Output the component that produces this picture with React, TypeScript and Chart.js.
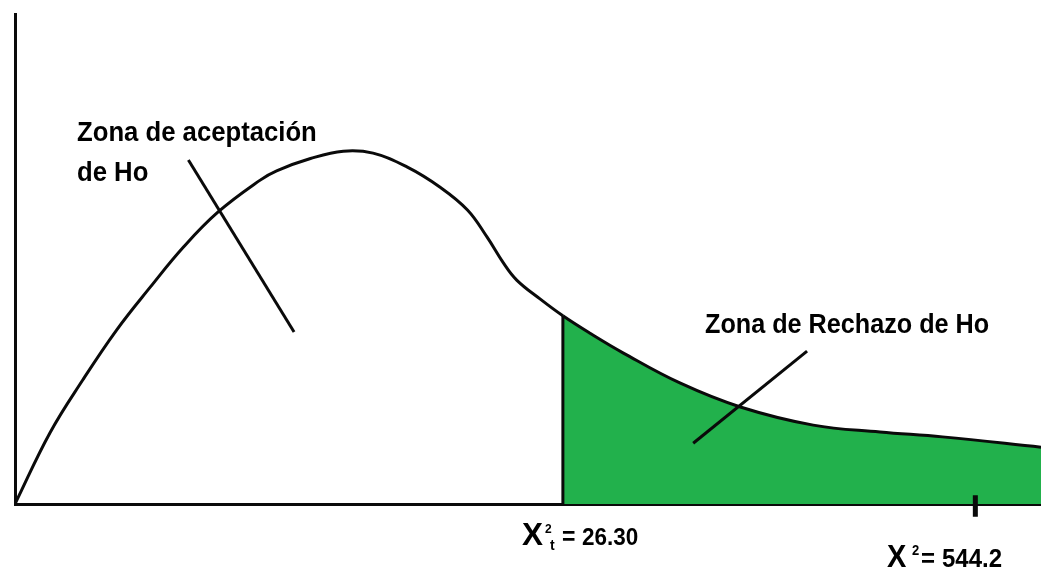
import React, { useEffect, useRef } from "react";
import { Chart, registerables } from "chart.js";

Chart.register(...registerables);

// Chi-square-like density curve (abstract units: x 0..100, y 0..100)
const curveX = [0, 3.4, 6.6, 9.9, 13.2, 16.4, 19.8, 23.9, 25.5, 28.8, 32.0, 34.9, 38.2, 41.4, 44.1, 46.0, 47.6, 48.9, 51.2, 53.4, 56.0, 59.3, 64.8, 70.7, 77.8, 84.3, 90.4, 100];
const curveY = [0, 14.5, 25.3, 35.5, 44.3, 52.4, 59.6, 66.1, 68.0, 70.5, 72.0, 71.6, 68.8, 64.7, 60.0, 54.5, 49.2, 45.7, 41.8, 38.4, 34.9, 30.8, 24.7, 19.8, 16.1, 14.7, 13.7, 11.6];

const criticalX = 53.4; // X²t = 26.30
const observedX = 93.6; // X² = 544.2
const observedTickY = [1.8, -2.6];

const acceptPointerX = [16.9, 27.2];
const acceptPointerY = [70.2, 35.1];
const rejectPointerX = [66.1, 77.2];
const rejectPointerY = [12.4, 31.2];

const acceptLabel = ["Zona de aceptación", "de Ho"];
const rejectLabel = "Zona de Rechazo de Ho";
const criticalValueLabel = "26.30";
const observedValueLabel = "544.2";

const GREEN = "#22B14C";
const INK = "#0a0a0a";
const FONT = '"Liberation Sans", Arial, Helvetica, sans-serif';

const textPlugin = {
  id: "chiTexts",
  afterDraw(chart: any) {
    const ctx = chart.ctx as CanvasRenderingContext2D;
    ctx.save();
    ctx.fillStyle = "#000";
    ctx.textBaseline = "alphabetic";
    ctx.textAlign = "left";

    const stretched = (text: string, x: number, y: number, size: number, sy = 1.1, sx = 1) => {
      ctx.save();
      ctx.translate(x, y);
      ctx.scale(sx, sy);
      ctx.font = `bold ${size}px ${FONT}`;
      ctx.fillText(text, 0, 0);
      ctx.restore();
    };

    stretched(acceptLabel[0], 77, 141, 25.7);
    stretched(acceptLabel[1], 77, 181, 25.7);
    stretched(rejectLabel, 705, 333, 25.2);

    // X²t = 26.30
    stretched("X", 522, 545, 30, 1.02, 1.05);
    stretched("2", 545, 533, 12);
    stretched("t", 550, 550, 14);
    stretched("=", 562, 545, 23);
    stretched(criticalValueLabel, 582, 545, 22.5);

    // X² = 544.2
    stretched("X", 887, 567, 29, 1.05, 1.0);
    stretched("2", 912, 555, 13);
    stretched("=", 921, 567, 24);
    stretched(observedValueLabel, 942, 567, 24);
    ctx.restore();
  },
};

export default function App() {
  const canvasRef = useRef<HTMLCanvasElement | null>(null);

  useEffect(() => {
    const canvas = canvasRef.current;
    if (!canvas) return;
    const critIdx = curveX.indexOf(criticalX);
    const critY = curveY[critIdx];

    const curveData = curveX.map((x, i) => ({ x, y: curveY[i] }));
    const line = (xs: number[], ys: number[]) => xs.map((x, i) => ({ x, y: ys[i] }));

    const chart = new Chart(canvas, {
      type: "scatter",
      data: {
        datasets: [
          {
            data: line([criticalX, criticalX], [0, critY]),
            showLine: true,
            borderColor: INK,
            borderWidth: 3,
            pointRadius: 0,
            order: 0,
          },
          {
            data: line(acceptPointerX, acceptPointerY),
            showLine: true,
            borderColor: INK,
            borderWidth: 3,
            pointRadius: 0,
            order: 2,
          },
          {
            data: line(rejectPointerX, rejectPointerY),
            showLine: true,
            borderColor: INK,
            borderWidth: 3,
            pointRadius: 0,
            order: 0,
          },
          {
            data: line([observedX, observedX], observedTickY),
            showLine: true,
            borderColor: INK,
            borderWidth: 5,
            pointRadius: 0,
            clip: false as any,
            order: 0,
          },
          {
            data: curveData,
            showLine: true,
            borderColor: INK,
            borderWidth: 3,
            pointRadius: 0,
            tension: 0.4,
            fill: "origin",
            backgroundColor: "rgba(0,0,0,0)",
            segment: {
              backgroundColor: (c: any) =>
                c.p0.parsed.x >= criticalX - 1e-9 ? GREEN : "rgba(0,0,0,0)",
            },
            order: 1,
          } as any,
        ],
      },
      options: {
        animation: false,
        responsive: false,
        events: [],
        layout: { padding: { left: 15, top: 14, right: 0, bottom: 67 } },
        plugins: {
          legend: { display: false },
          tooltip: { enabled: false },
        },
        scales: {
          x: {
            type: "linear",
            min: 0,
            max: 100,
            grid: { display: false, drawTicks: false },
            ticks: { display: false },
            border: { display: true, color: INK, width: 3 },
          },
          y: {
            type: "linear",
            min: 0,
            max: 100,
            grid: { display: false, drawTicks: false },
            ticks: { display: false },
            border: { display: true, color: INK, width: 3 },
          },
        },
      },
      plugins: [textPlugin],
    });
    return () => chart.destroy();
  }, []);

  return (
    <div style={{ position: "fixed", left: 0, top: 0, width: 1041, height: 571, background: "#fff" }}>
      <canvas ref={canvasRef} width={1041} height={571} style={{ display: "block", width: 1041, height: 571 }} />
    </div>
  );
}
